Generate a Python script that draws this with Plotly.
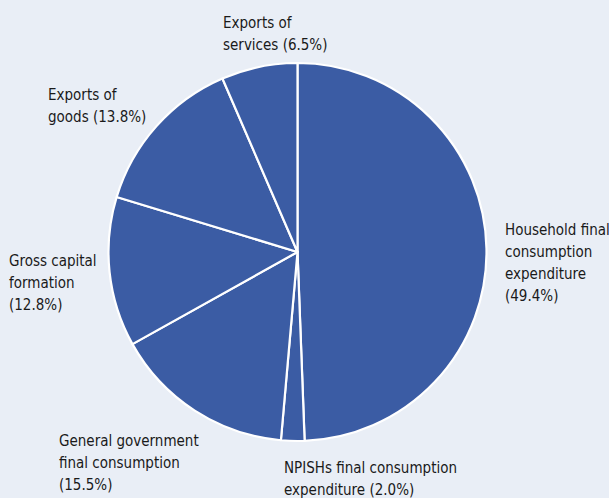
import plotly.graph_objects as go

# GDP components, clockwise from 12 o'clock
categories = [
    "Household final consumption expenditure",
    "NPISHs final consumption expenditure",
    "General government final consumption",
    "Gross capital formation",
    "Exports of goods",
    "Exports of services",
]
shares = [49.4, 2.0, 15.5, 12.8, 13.8, 6.5]

# Label line breaks for each category (same order)
label_lines = [
    ["Household final", "consumption", "expenditure"],
    ["NPISHs final consumption", "expenditure"],
    ["General government", "final consumption"],
    ["Gross capital", "formation"],
    ["Exports of", "goods"],
    ["Exports of", "services"],
]
# percentage appended to the last line (True) or placed on its own line (False)
pct_inline = [False, True, False, False, True, True]

# label placement in pixels: left edge and baseline of the first line
label_pos = [(504, 235), (283, 473), (58, 446), (8, 266), (47, 100), (222, 28)]
LINE_STEP = 22

W, H = 609, 498
BG = "#e9eef6"
BLUE = "#3b5ca4"
FONT = "DejaVu Sans Condensed, Liberation Sans Narrow, sans-serif"
FONT_SIZE = 15

fig = go.Figure(
    go.Pie(
        labels=categories,
        values=shares,
        sort=False,
        direction="clockwise",
        rotation=0,
        textinfo="none",
        hoverinfo="label+percent",
        marker=dict(colors=[BLUE] * len(shares), line=dict(color="white", width=2.2)),
        domain=dict(x=[107 / W, 488 / W], y=[1 - 441 / H, 1 - 63 / H]),
        showlegend=False,
    )
)

for lines, val, inline, (px, base) in zip(label_lines, shares, pct_inline, label_pos):
    pct = f"({val:.1f}%)"
    if inline:
        txt_lines = lines[:-1] + [f"{lines[-1]} {pct}"]
    else:
        txt_lines = lines + [pct]
    for i, line in enumerate(txt_lines):
        mid = base + i * LINE_STEP - 5
        fig.add_annotation(
            text=line,
            x=px / W,
            y=1 - mid / H,
            xref="paper",
            yref="paper",
            xanchor="left",
            yanchor="middle",
            align="left",
            showarrow=False,
            borderpad=0,
            font=dict(family=FONT, size=FONT_SIZE, color="#1a1a1a"),
        )

fig.update_layout(
    width=W,
    height=H,
    margin=dict(l=0, r=0, t=0, b=0),
    paper_bgcolor=BG,
    plot_bgcolor=BG,
)

fig.write_html("out.html")
